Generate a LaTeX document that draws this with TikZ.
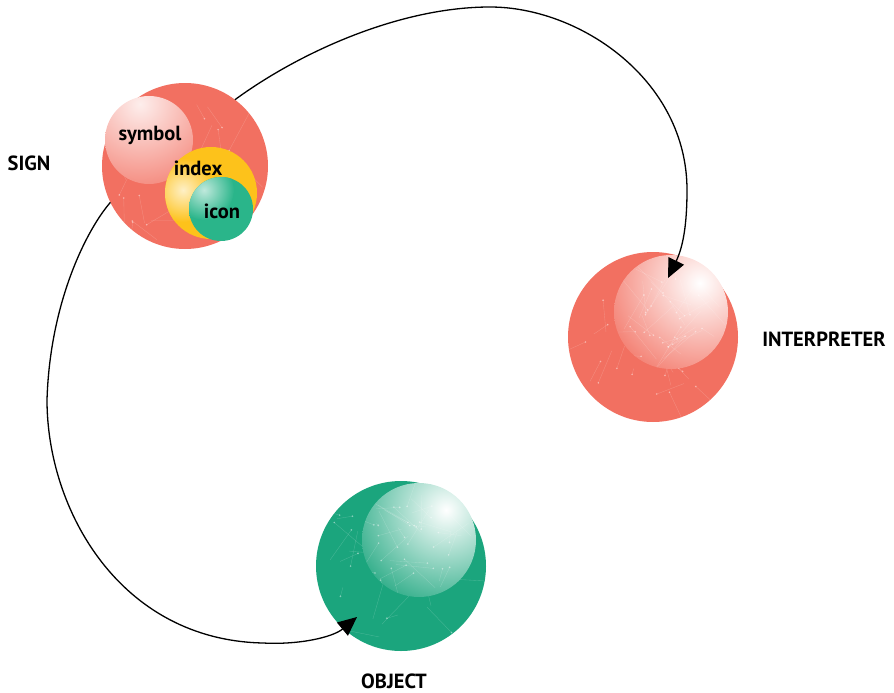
\documentclass[tikz,border=0pt]{standalone}
\usepackage{fontspec}
\setmainfont{PT Sans}
\usetikzlibrary{arrows.meta,calc}
\definecolor{salmon}{HTML}{F27061}
\definecolor{objgreen}{HTML}{1BA57D}
\definecolor{idxyellow}{HTML}{FDC21B}
\definecolor{icongreen}{HTML}{2AB58A}
\newcommand\netlines[4]{%
  \begin{scope}
    \clip (#1,#2) circle (#3);
    \pgfmathsetseed{#4}
    \foreach \k in {1,...,34}{
      \pgfmathsetmacro\ax{#1+0.7*#3*rand-0.1*#3}
      \pgfmathsetmacro\ay{#2+0.7*#3*rand+0.1*#3}
      \pgfmathsetmacro\bx{\ax+38*rand}
      \pgfmathsetmacro\by{\ay+38*rand}
      \draw[net] (\ax,\ay) -- (\bx,\by);
      \fill[white,opacity=0.45] (\ax,\ay) circle (0.9);
    }
  \end{scope}}
\begin{document}
\begin{tikzpicture}[x=1pt,y=-1pt,
  ball/.style={circle, inner sep=0pt, outer sep=0pt},
  lbl/.style={font=\fontsize{20.5}{24}\selectfont\bfseries, text=black, anchor=base, inner sep=1pt},
  conn/.style={line width=1.3pt, black, -{Triangle[length=19pt,width=17pt]}},
  net/.style={white, opacity=0.2, line width=0.35pt}]

\useasboundingbox (0,0) rectangle (894,693);

% ---------- SIGN ----------
\node[ball, minimum size=166pt, fill=salmon] (sign) at (185,166) {};
\netlines{185}{166}{83}{3}
\begin{scope}
  \clip (149,140) circle (44);
  \shade[inner color=salmon!12!white, outer color=salmon!86!white] (140,104) circle (90);
\end{scope}
\node[ball, minimum size=92pt, fill=idxyellow] (index) at (211,193) {};
\begin{scope}
  \clip (211,193) circle (46);
  \shade[inner color=idxyellow!25!white, outer color=idxyellow] (183,190) circle (32);
\end{scope}
\node[ball, minimum size=64pt, fill=icongreen] (icon) at (221,209) {};
\begin{scope}
  \clip (221,209) circle (32);
  \shade[inner color=icongreen!30!white, outer color=icongreen] (204,190) circle (30);
\end{scope}

% ---------- INTERPRETER ----------
\node[ball, minimum size=170pt, fill=salmon] (interp) at (653,337) {};
\netlines{653}{337}{85}{11}
\begin{scope}
  \clip (671,312) circle (57);
  \shade[inner color=white, outer color=salmon!88!white] (700,283) circle (100);
\end{scope}
\netlines{671}{312}{57}{5}

% ---------- OBJECT ----------
\node[ball, minimum size=170pt, fill=objgreen] (object) at (401,566) {};
\netlines{401}{566}{85}{17}
\begin{scope}
  \clip (419,540) circle (57);
  \shade[inner color=white, outer color=objgreen!90!white] (446,510) circle (100);
\end{scope}
\netlines{419}{540}{57}{23}

% ---------- connectors ----------
\coordinate (t1) at ($(interp.center)+(15,-59)$);
\coordinate (t2) at ($(object.center)+(-44,51)$);
\draw[conn] (sign.53) .. controls (300,52) and (400,7) .. (490,7)
  .. controls (580,7) and (687,80) .. (687,190)
  .. controls (687,225) and (683,247) .. (t1);
\draw[conn] (sign.206) .. controls (88,228) and (50,300) .. (47,400)
  .. controls (47,510) and (120,640) .. (263,643)
  .. controls (300,645) and (333,637) .. (t2);

% ---------- labels ----------
\node[lbl] (symlbl) at (150,140) {symbol};
\node[lbl] (idxlbl) at (198,175) {index};
\node[lbl] (iconlbl) at (222,218) {icon};
\node[lbl] (signlbl) at (29,170) {SIGN};
\node[lbl] (interplbl) at (824,346) {INTERPRETER};
\node[lbl] (objlbl) at (394,688) {OBJECT};
\end{tikzpicture}
\end{document}
